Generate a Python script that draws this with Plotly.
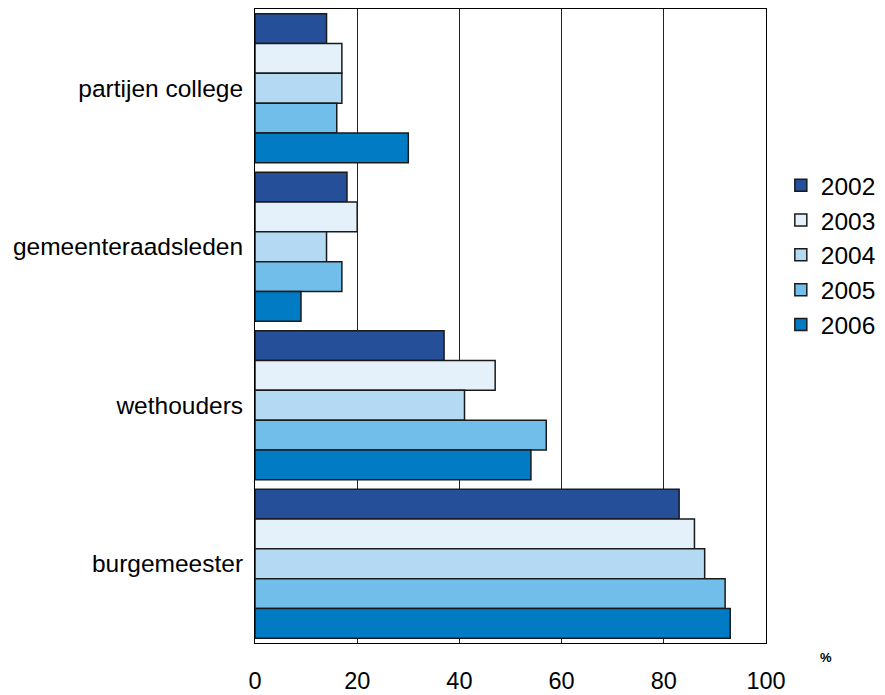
import plotly.graph_objects as go

categories = ["partijen college", "gemeenteraadsleden", "wethouders", "burgemeester"]
years = ["2002", "2003", "2004", "2005", "2006"]
values = {
    "2002": [14, 18, 37, 83],
    "2003": [17, 20, 47, 86],
    "2004": [17, 14, 41, 88],
    "2005": [16, 17, 57, 92],
    "2006": [30, 9, 54, 93],
}
colors = {
    "2002": "#264F9A",
    "2003": "#E4F0FA",
    "2004": "#B3D9F3",
    "2005": "#71BEEB",
    "2006": "#007BC4",
}
x_ticks = [0, 20, 40, 60, 80, 100]

FONT = "Arial, Liberation Sans, sans-serif"

W, H = 877, 687
L, R, T, B = 247, 119, 1, 52
PW = W - L - R
PH = H - T - B

fig = go.Figure()
for yr in years:
    fig.add_trace(go.Bar(
        y=categories, x=values[yr], name=yr, orientation="h",
        marker=dict(color=colors[yr], line=dict(color="#1a1a1a", width=1.5)),
    ))

fig.update_layout(
    width=W, height=H,
    margin=dict(l=L, r=R, t=T, b=B, autoexpand=False),
    barmode="group", bargap=0.06, bargroupgap=0,
    plot_bgcolor="white", paper_bgcolor="white",
    font=dict(family=FONT, size=24, color="black"),
    showlegend=True,
    legend=dict(
        traceorder="normal", x=1.029, y=0.7575, xanchor="left", yanchor="top",
        font=dict(size=24.5), itemwidth=30, tracegroupgap=0,
        bgcolor="rgba(0,0,0,0)",
    ),
    xaxis=dict(
        range=[0, 100], tickvals=x_ticks, ticktext=[str(v) for v in x_ticks],
        showgrid=True, gridcolor="#222222", gridwidth=1,
        showline=True, linecolor="black", linewidth=1, mirror=True,
        ticks="", ticklabelstandoff=17, zeroline=False, automargin=False,
        tickfont=dict(size=23.5),
    ),
    yaxis=dict(
        categoryorder="array", categoryarray=categories, autorange="reversed",
        showline=True, linecolor="black", linewidth=1, mirror=True,
        ticks="", ticklabelstandoff=6, showgrid=False, automargin=False,
        tickfont=dict(size=24.5),
    ),
    annotations=[dict(
        text="<b>%</b>", x=(818 - L) / PW, y=-14 / PH, xref="paper", yref="paper",
        xanchor="center", yanchor="middle",
        showarrow=False, font=dict(size=13, family=FONT),
    )],
)

fig.write_html("out.html")
